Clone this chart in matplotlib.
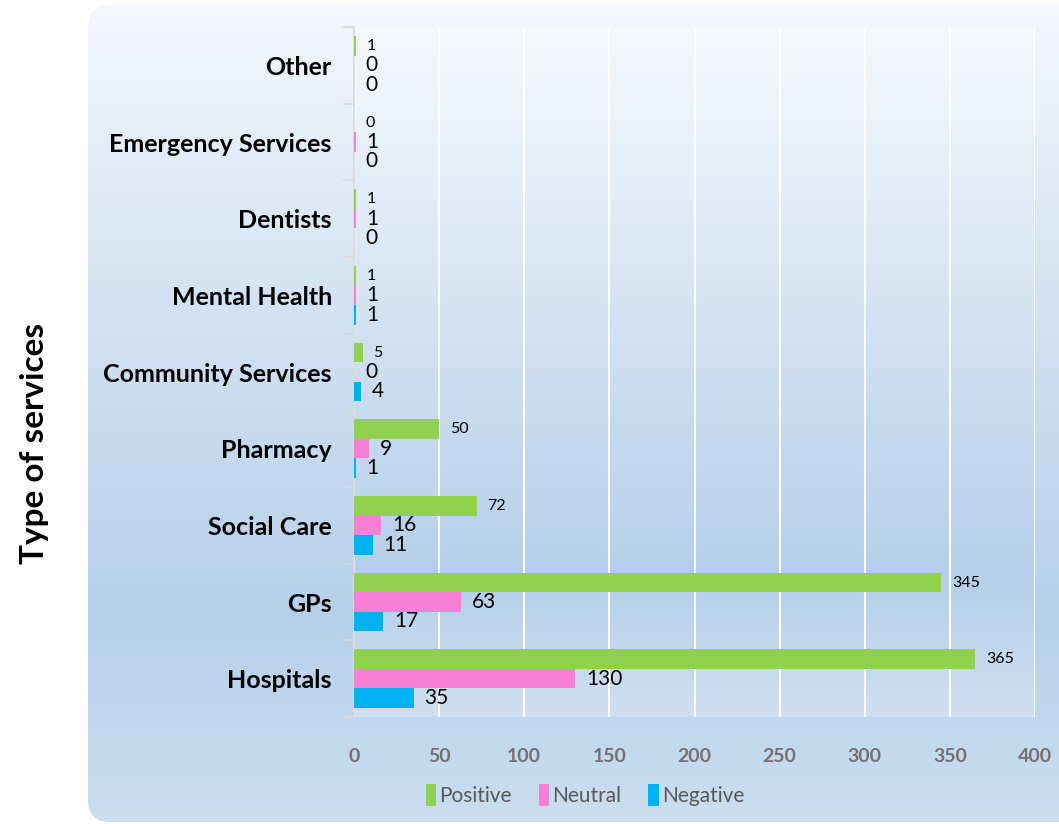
import numpy as np
import matplotlib
matplotlib.use("Agg")
import matplotlib.pyplot as plt
from matplotlib.colors import LinearSegmentedColormap
from matplotlib.patches import FancyBboxPatch, Rectangle

# Feedback counts by type of service
categories = ["Hospitals", "GPs", "Social Care", "Pharmacy", "Community Services",
              "Mental Health", "Dentists", "Emergency Services", "Other"]
positive = [365, 345, 72, 50, 5, 1, 1, 0, 1]
neutral = [130, 63, 16, 9, 0, 1, 1, 1, 0]
negative = [35, 17, 11, 1, 4, 1, 0, 0, 0]
series_names = ["Positive", "Neutral", "Negative"]
x_ticks = [0, 50, 100, 150, 200, 250, 300, 350, 400]

colors = {"Positive": "#92d050", "Neutral": "#f77fd6", "Negative": "#00b0f0"}
font = "Lato"

W, H, DPI = 1059, 824, 100
fig = plt.figure(figsize=(W / DPI, H / DPI), dpi=DPI, facecolor="white")

# Rounded panel with vertical gradient behind the chart
bg = fig.add_axes([0, 0, 1, 1], zorder=0)
bg.set_xlim(0, W)
bg.set_ylim(H, 0)
bg.axis("off")
panel_cmap = LinearSegmentedColormap.from_list(
    "panel", [(0.0, "#f4f7fb"), (0.36, "#d3e3f3"), (0.75, "#b6d0ea"), (1.0, "#cadef0")])
grad = np.linspace(0, 1, 256).reshape(-1, 1)
img = bg.imshow(grad, cmap=panel_cmap, aspect="auto", extent=[88, W + 40, 822, 5],
                interpolation="bilinear")
panel = FancyBboxPatch((88, 5), W + 40 - 88, 817, boxstyle="round,pad=0,rounding_size=22",
                       facecolor="none", edgecolor="none", transform=bg.transData)
bg.add_patch(panel)
img.set_clip_path(panel)

left, right, top, bottom = 354, 1035, 27, 717
ax = fig.add_axes([left / W, 1 - bottom / H, (right - left) / W, (bottom - top) / H], zorder=1)

# Gradient for the plot area
plot_cmap = LinearSegmentedColormap.from_list(
    "plotarea", [(0.0, "#f6f9fc"), (0.4, "#d5e4f3"), (0.8, "#b4cfea"), (1.0, "#cfe0f1")])
ax.imshow(grad, cmap=plot_cmap, aspect="auto", extent=[0, 400, -0.5, len(categories) - 0.5],
          interpolation="bilinear", zorder=0)

y = np.arange(len(categories))
h = 0.254
offsets = {"Positive": h, "Neutral": 0.0, "Negative": -h}
data = {"Positive": positive, "Neutral": neutral, "Negative": negative}
label_size = {"Positive": 11.5, "Neutral": 15, "Negative": 15}

for name in series_names:
    vals = data[name]
    ax.barh(y + offsets[name], vals, height=h, color=colors[name], zorder=3, label=name)
    for yy, v in zip(y + offsets[name], vals):
        ax.annotate(str(v), xy=(v, yy), xytext=(11, 0), textcoords="offset pixels",
                    ha="left", va="center", fontsize=label_size[name], family=font,
                    color="#000000", zorder=4)

ax.set_xlim(0, 400)
ax.set_ylim(-0.5, len(categories) - 0.5)
ax.set_xticks(x_ticks)
ax.set_xticklabels([str(t) for t in x_ticks], family=font, fontweight="bold",
                   fontsize=14, color="#767171")
ax.tick_params(axis="x", length=0, pad=22)
ax.grid(axis="x", color="white", linewidth=1.5, zorder=1)

# Category boundaries carry the tick marks, centres carry the labels
ax.set_yticks(np.arange(-0.5, len(categories), 1.0))
ax.set_yticklabels([])
ax.tick_params(axis="y", which="major", length=8, color="#d9d9d9", width=1.2)
ax.set_yticks(y, minor=True)
ax.set_yticklabels(categories, minor=True, family=font, fontweight="bold", fontsize=18,
                   color="#000000")
ax.tick_params(axis="y", which="minor", length=0, pad=16)

for s in ["top", "right", "bottom"]:
    ax.spines[s].set_visible(False)
ax.spines["left"].set_color("#d9d9d9")
ax.spines["left"].set_linewidth(1.2)
ax.set_axisbelow(True)

fig.text(35 / W, 1 - 443 / H, "Type of services", rotation=90, ha="center", va="center",
         family=font, fontweight="bold", fontsize=24, color="#000000")

# Legend with tall narrow colour keys
handles = [Rectangle((0, 0), 1, 1, facecolor=colors[n], edgecolor="none") for n in series_names]
leg = fig.legend(handles, series_names, loc="center", bbox_to_anchor=(585 / W, 1 - 795 / H),
                 ncol=3, frameon=False, handlelength=0.5, handleheight=1.25,
                 handletextpad=0.15, columnspacing=1.3,
                 prop={"family": font, "size": 15})
for t in leg.get_texts():
    t.set_color("#595959")

fig.savefig("out.png", dpi=DPI, facecolor="white")
